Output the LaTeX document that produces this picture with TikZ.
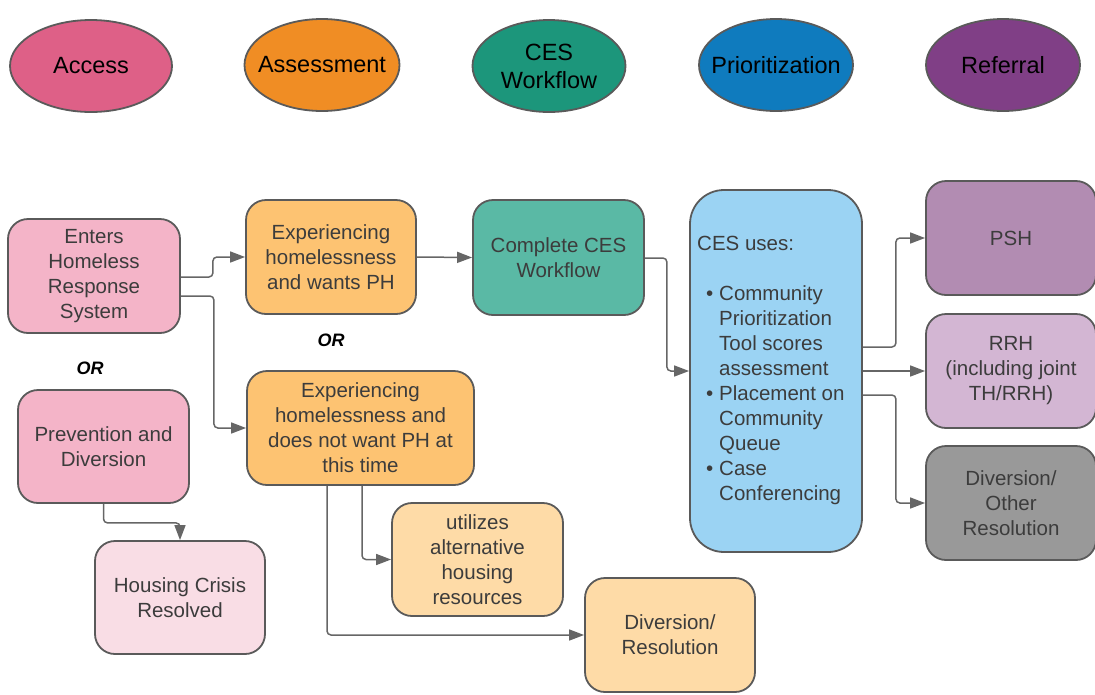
\documentclass[tikz,border=0pt]{standalone}
\usepackage{fontspec}
\setmainfont{Liberation Sans}
\usetikzlibrary{arrows.meta,shapes.geometric}
\definecolor{txt}{HTML}{3C3C3C}
\definecolor{edge}{HTML}{5A5A5A}
\definecolor{conncol}{HTML}{666666}
\definecolor{cAccess}{HTML}{DE6087}
\definecolor{cAssess}{HTML}{F08D24}
\definecolor{cWork}{HTML}{1C967B}
\definecolor{cPrior}{HTML}{0F7BBE}
\definecolor{cRef}{HTML}{803F86}
\definecolor{fPink}{HTML}{F4B4C8}
\definecolor{fPinkL}{HTML}{F9DDE5}
\definecolor{fOrange}{HTML}{FDC372}
\definecolor{fOrangeL}{HTML}{FEDBA7}
\definecolor{fTeal}{HTML}{5AB9A5}
\definecolor{fBlue}{HTML}{9BD3F3}
\definecolor{fPurple}{HTML}{B28CB2}
\definecolor{fPurpleL}{HTML}{D3B6D3}
\definecolor{fGray}{HTML}{999999}
\tikzset{
  phase/.style={ellipse, draw=edge, line width=1.8pt, inner sep=0pt,
    minimum width=154pt, minimum height=92pt, align=center,
    font=\fontsize{23.5}{28}\selectfont, text=black},
  box/.style={rectangle, rounded corners=20pt, draw=edge, line width=1.8pt,
    minimum width=171pt, minimum height=114pt, align=center, inner sep=0pt,
    font=\fontsize{20.5}{25}\selectfont, text=txt},
  conn/.style={draw=conncol, line width=1.5pt, rounded corners=4pt,
    -{Triangle[length=15pt,width=11pt]}},
  orlabel/.style={font=\fontsize{18}{20}\selectfont\bfseries\itshape, text=black}
}
\begin{document}
\begin{tikzpicture}[x=1pt,y=-1pt]
\useasboundingbox (0,0) rectangle (1095,694);
% phase ellipses
\node[phase, fill=cAccess, minimum width=162pt] (access) at (91,66) {\makebox[0pt]{Access}};
\node[phase, fill=cAssess, minimum width=155pt] (assess) at (322,65) {\makebox[0pt]{Assessment}};
\node[phase, fill=cWork, minimum width=153pt] (workflow) at (549,66) {CES\\Workflow};
\node[phase, fill=cPrior] (prior) at (776,65) {\makebox[0pt]{Prioritization}};
\node[phase, fill=cRef] (referral) at (1003,65) {\makebox[0pt]{Referral}};
% boxes
\node[box, fill=fPink, minimum width=172pt] (enters) at (94,276) {Enters\\Homeless\\Response\\System};
\node[box, fill=fPink, minimum height=113pt] (prev) at (103.5,446.5) {Prevention and\\Diversion};
\node[box, fill=fPinkL, minimum width=170pt, minimum height=113pt] (housing) at (180,597.5) {Housing Crisis\\Resolved};
\node[box, fill=fOrange, minimum width=170pt] (wants) at (331,257) {Experiencing\\homelessness\\and wants PH};
\node[box, fill=fOrange, minimum width=227pt] (notwant) at (360.5,428) {Experiencing\\homelessness and\\does not want PH at\\this time};
\node[box, fill=fOrangeL, minimum height=113pt] (util) at (477.5,559.5) {utilizes\\alternative\\housing\\resources};
\node[box, fill=fOrangeL, minimum width=170pt] (divres) at (670,635) {Diversion/\\Resolution};
\node[box, fill=fTeal, minimum height=115pt] (complete) at (558.5,257.5) {Complete CES\\Workflow};
\node[box, fill=fBlue, minimum width=172pt, minimum height=362pt, rounded corners=34pt] (ces) at (776,371) {};
\node[anchor=north west, inner sep=0pt, align=left, text=txt,
  font=\fontsize{20.5}{25}\selectfont] (cestext) at (697,236)
  {CES uses:\\[25pt]
   \hspace*{9pt}\makebox[13pt][l]{•}Community\\
   \hspace*{22pt}Prioritization\\
   \hspace*{22pt}Tool scores\\
   \hspace*{22pt}assessment\\
   \hspace*{9pt}\makebox[13pt][l]{•}Placement on\\
   \hspace*{22pt}Community\\
   \hspace*{22pt}Queue\\
   \hspace*{9pt}\makebox[13pt][l]{•}Case\\
   \hspace*{22pt}Conferencing};
\node[box, fill=fPurple, minimum width=170pt] (psh) at (1011,238) {PSH};
\node[box, fill=fPurpleL, minimum width=170pt] (rrh) at (1011,371) {RRH\\(including joint\\TH/RRH)};
\node[box, fill=fGray, minimum width=170pt] (other) at (1011,503) {Diversion/\\Other\\Resolution};
% OR labels
\node[orlabel] (or1) at (90,368) {OR};
\node[orlabel] (or2) at (331,340) {OR};
% connectors
\draw[conn] ([yshift=-1pt]enters.east) -- ++(32,0) |- (wants.west);
\draw[conn] ([yshift=-20pt]enters.east) -- ++(33,0) |- (notwant.west);
\draw[conn] (wants.east) -- (complete.west);
\draw[conn] ([yshift=-0.5pt]complete.east) -- ++(22,0) |- (ces.west);
\draw[conn] ([yshift=24pt]ces.east) -- ++(33,0) |- (psh.west);
\draw[conn] (ces.east) -- (rrh.west);
\draw[conn] ([yshift=-24pt]ces.east) -- ++(33,0) |- (other.west);
\draw[conn] ([xshift=1.5pt]notwant.south) |- (util.west);
\draw[conn] ([xshift=-33.5pt]notwant.south) |- (divres.west);
\draw[conn] (prev.south) -- ++(0,19) -| (housing.north);
\end{tikzpicture}
\end{document}
